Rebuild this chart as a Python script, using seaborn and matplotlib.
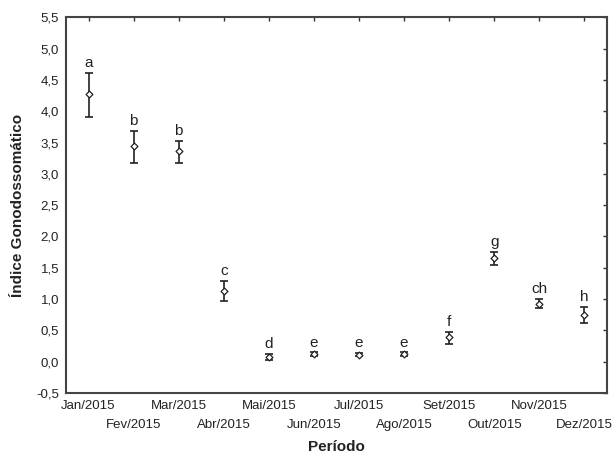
import numpy as np
import pandas as pd
import matplotlib
matplotlib.use("Agg")
import matplotlib.pyplot as plt
import seaborn as sns
from matplotlib.ticker import FuncFormatter

meses = ['Jan/2015', 'Fev/2015', 'Mar/2015', 'Abr/2015', 'Mai/2015', 'Jun/2015',
         'Jul/2015', 'Ago/2015', 'Set/2015', 'Out/2015', 'Nov/2015', 'Dez/2015']
media = [4.27, 3.44, 3.36, 1.13, 0.07, 0.12, 0.11, 0.12, 0.40, 1.66, 0.92, 0.74]
inferior = [3.91, 3.18, 3.18, 0.97, 0.03, 0.09, 0.09, 0.09, 0.28, 1.54, 0.85, 0.62]
superior = [4.61, 3.69, 3.53, 1.29, 0.12, 0.15, 0.14, 0.15, 0.48, 1.76, 1.00, 0.87]
letras = ['a', 'b', 'b', 'c', 'd', 'e', 'e', 'e', 'f', 'g', 'ch', 'h']

df = pd.DataFrame({'pos': np.arange(1, len(meses) + 1), 'mes': meses, 'media': media,
                   'inf': inferior, 'sup': superior, 'letra': letras})

sns.set_style('white')
plt.rcParams['font.family'] = ['Liberation Sans', 'DejaVu Sans']

fig = plt.figure(figsize=(6.14, 4.57), dpi=100)
ax = fig.add_axes([0.1075, 0.140, 0.881, 0.822])

ax.errorbar(df['pos'], df['media'],
            yerr=[df['media'] - df['inf'], df['sup'] - df['media']],
            fmt='none', ecolor='#222222', elinewidth=1.2, capsize=3, capthick=1.2, zorder=2)
sns.scatterplot(data=df, x='pos', y='media', ax=ax, marker='D', s=12,
                facecolor='white', edgecolor='#222222', linewidth=0.9, zorder=3)

for _, r in df.iterrows():
    ax.annotate(r['letra'], (r['pos'], r['sup']), xytext=(0, 2), textcoords='offset points',
                ha='center', va='bottom', fontsize=11, color='#222222')

ax.set_xlim(0.5, 12.5)
ax.set_ylim(-0.5, 5.5)
ax.set_yticks(np.arange(-0.5, 5.51, 0.5))
ax.yaxis.set_major_formatter(FuncFormatter(lambda v, p: f'{v:.1f}'.replace('.', ',')))
ax.set_xticks(df['pos'])
ax.set_xticklabels(meses)

ax.tick_params(axis='both', direction='in', length=3, width=1, color='#333333',
               top=True, right=True, labelsize=9.5, labelcolor='#222222', pad=5)
# rotulos alternados em duas linhas
for i, t in enumerate(ax.xaxis.get_major_ticks()):
    if i % 2 == 1:
        t.set_pad(19)
for s in ax.spines.values():
    s.set_color('#444444')
    s.set_linewidth(1.5)

ax.set_xlabel('Período', fontsize=11, fontweight='bold', color='#222222', labelpad=6)
ax.set_ylabel('Índice Gonodossomático', fontsize=11, fontweight='bold', color='#222222', labelpad=8)

fig.savefig('out.png', dpi=100)
